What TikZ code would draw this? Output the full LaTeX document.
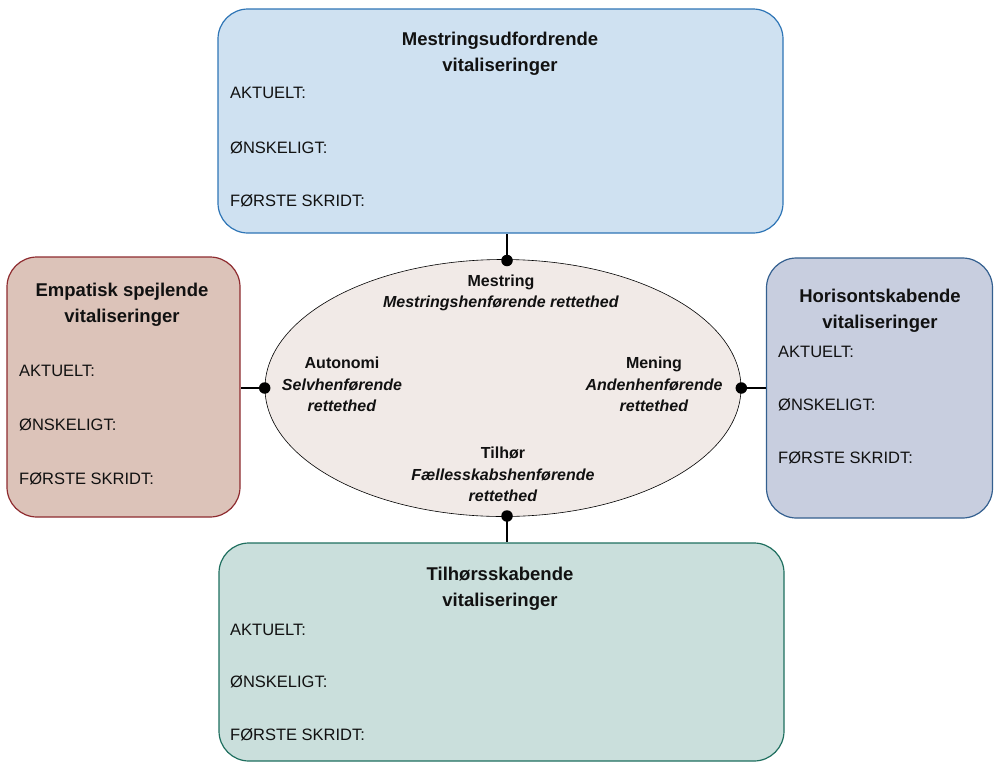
\documentclass[tikz,border=0pt]{standalone}
\usepackage{fontspec}
\setmainfont{Liberation Sans}
\usetikzlibrary{shapes.geometric}

\definecolor{topfill}{HTML}{CFE1F1}
\definecolor{topline}{HTML}{2E75B6}
\definecolor{leftfill}{HTML}{DCC3B9}
\definecolor{leftline}{HTML}{8E2B2F}
\definecolor{rightfill}{HTML}{C8CEDF}
\definecolor{rightline}{HTML}{335F8F}
\definecolor{botfill}{HTML}{CADFDC}
\definecolor{botline}{HTML}{1F6F5F}
\definecolor{ovalfill}{HTML}{F1EAE7}
\definecolor{ink}{HTML}{111111}

\tikzset{
  card/.style={rectangle, rounded corners=30pt, line width=1.2pt, inner sep=0pt},
  heading/.style={font=\fontsize{18.5}{26}\selectfont\bfseries, text=ink, align=center, inner sep=0pt},
  field/.style={font=\fontsize{16.5}{18}\selectfont, text=ink, anchor=west, inner sep=0pt},
  axis/.style={font=\fontsize{16}{21.5}\selectfont\bfseries, text=ink, align=center, inner sep=0pt},
  link/.style={line width=2.8pt, draw=black},
  knot/.style={circle, fill=black, minimum size=11.5pt, inner sep=0pt}
}

\begin{document}
\begin{tikzpicture}[x=1pt, y=-1pt]
\useasboundingbox (0,0) rectangle (994,764);

% four cards
\node[card, fill=topfill, draw=topline, minimum width=565pt, minimum height=224pt] (topcard) at (500.5,121) {};
\node[card, fill=leftfill, draw=leftline, minimum width=233pt, minimum height=260pt] (leftcard) at (123.5,387) {};
\node[card, fill=rightfill, draw=rightline, minimum width=226pt, minimum height=260pt] (rightcard) at (879.5,388) {};
\node[card, fill=botfill, draw=botline, minimum width=565pt, minimum height=218pt] (botcard) at (501.5,652) {};

% central oval
\node[ellipse, fill=ovalfill, draw=black, line width=0.6pt, minimum width=476pt, minimum height=257pt, inner sep=0pt] (oval) at (503,388) {};

% connectors
\coordinate (ntop) at (507,260.5);
\coordinate (nbot) at (507,516);
\draw[link] (ntop) -- (ntop |- topcard.south);
\draw[link] (nbot) -- (nbot |- botcard.north);
\draw[link] (oval.west) -- (oval.west -| leftcard.east);
\draw[link] (oval.east) -- (oval.east -| rightcard.west);
\node[knot] (dtop) at (ntop) {};
\node[knot] (dbot) at (nbot) {};
\node[knot] (dleft) at (oval.west) {};
\node[knot] (dright) at (oval.east) {};

% top card text
\node[heading] (toph) at (500,54) {Mestringsudfordrende\\vitaliseringer};
\node[field] (topa) at (230,93) {AKTUELT:};
\node[field] (topb) at (230,148) {ØNSKELIGT:};
\node[field] (topc) at (230,201) {FØRSTE SKRIDT:};

% left card text
\node[heading] (lefth) at (122,305) {Empatisk spejlende\\vitaliseringer};
\node[field] (lefta) at (19,371) {AKTUELT:};
\node[field] (leftb) at (19,425) {ØNSKELIGT:};
\node[field] (leftc) at (19,479) {FØRSTE SKRIDT:};

% right card text
\node[heading] (righth) at (880,311) {Horisontskabende\\vitaliseringer};
\node[field] (righta) at (778,352) {AKTUELT:};
\node[field] (rightb) at (778,405) {ØNSKELIGT:};
\node[field] (rightc) at (778,458) {FØRSTE SKRIDT:};

% bottom card text
\node[heading] (both) at (500,589) {Tilhørsskabende\\vitaliseringer};
\node[field] (bota) at (230,630) {AKTUELT:};
\node[field] (botb) at (230,682) {ØNSKELIGT:};
\node[field] (botc) at (230,735) {FØRSTE SKRIDT:};

% labels inside the oval
\node[axis] (mestring) at (501,293) {Mestring\\\textit{Mestringshenførende rettethed}};
\node[axis] (autonomi) at (342,384.5) {Autonomi\\\textit{Selvhenførende}\\\textit{rettethed}};
\node[axis] (mening) at (654,384.5) {Mening\\\textit{Andenhenførende}\\\textit{rettethed}};
\node[axis] (tilhor) at (503,474.5) {Tilhør\\\textit{Fællesskabshenførende}\\\textit{rettethed}};
\end{tikzpicture}
\end{document}
